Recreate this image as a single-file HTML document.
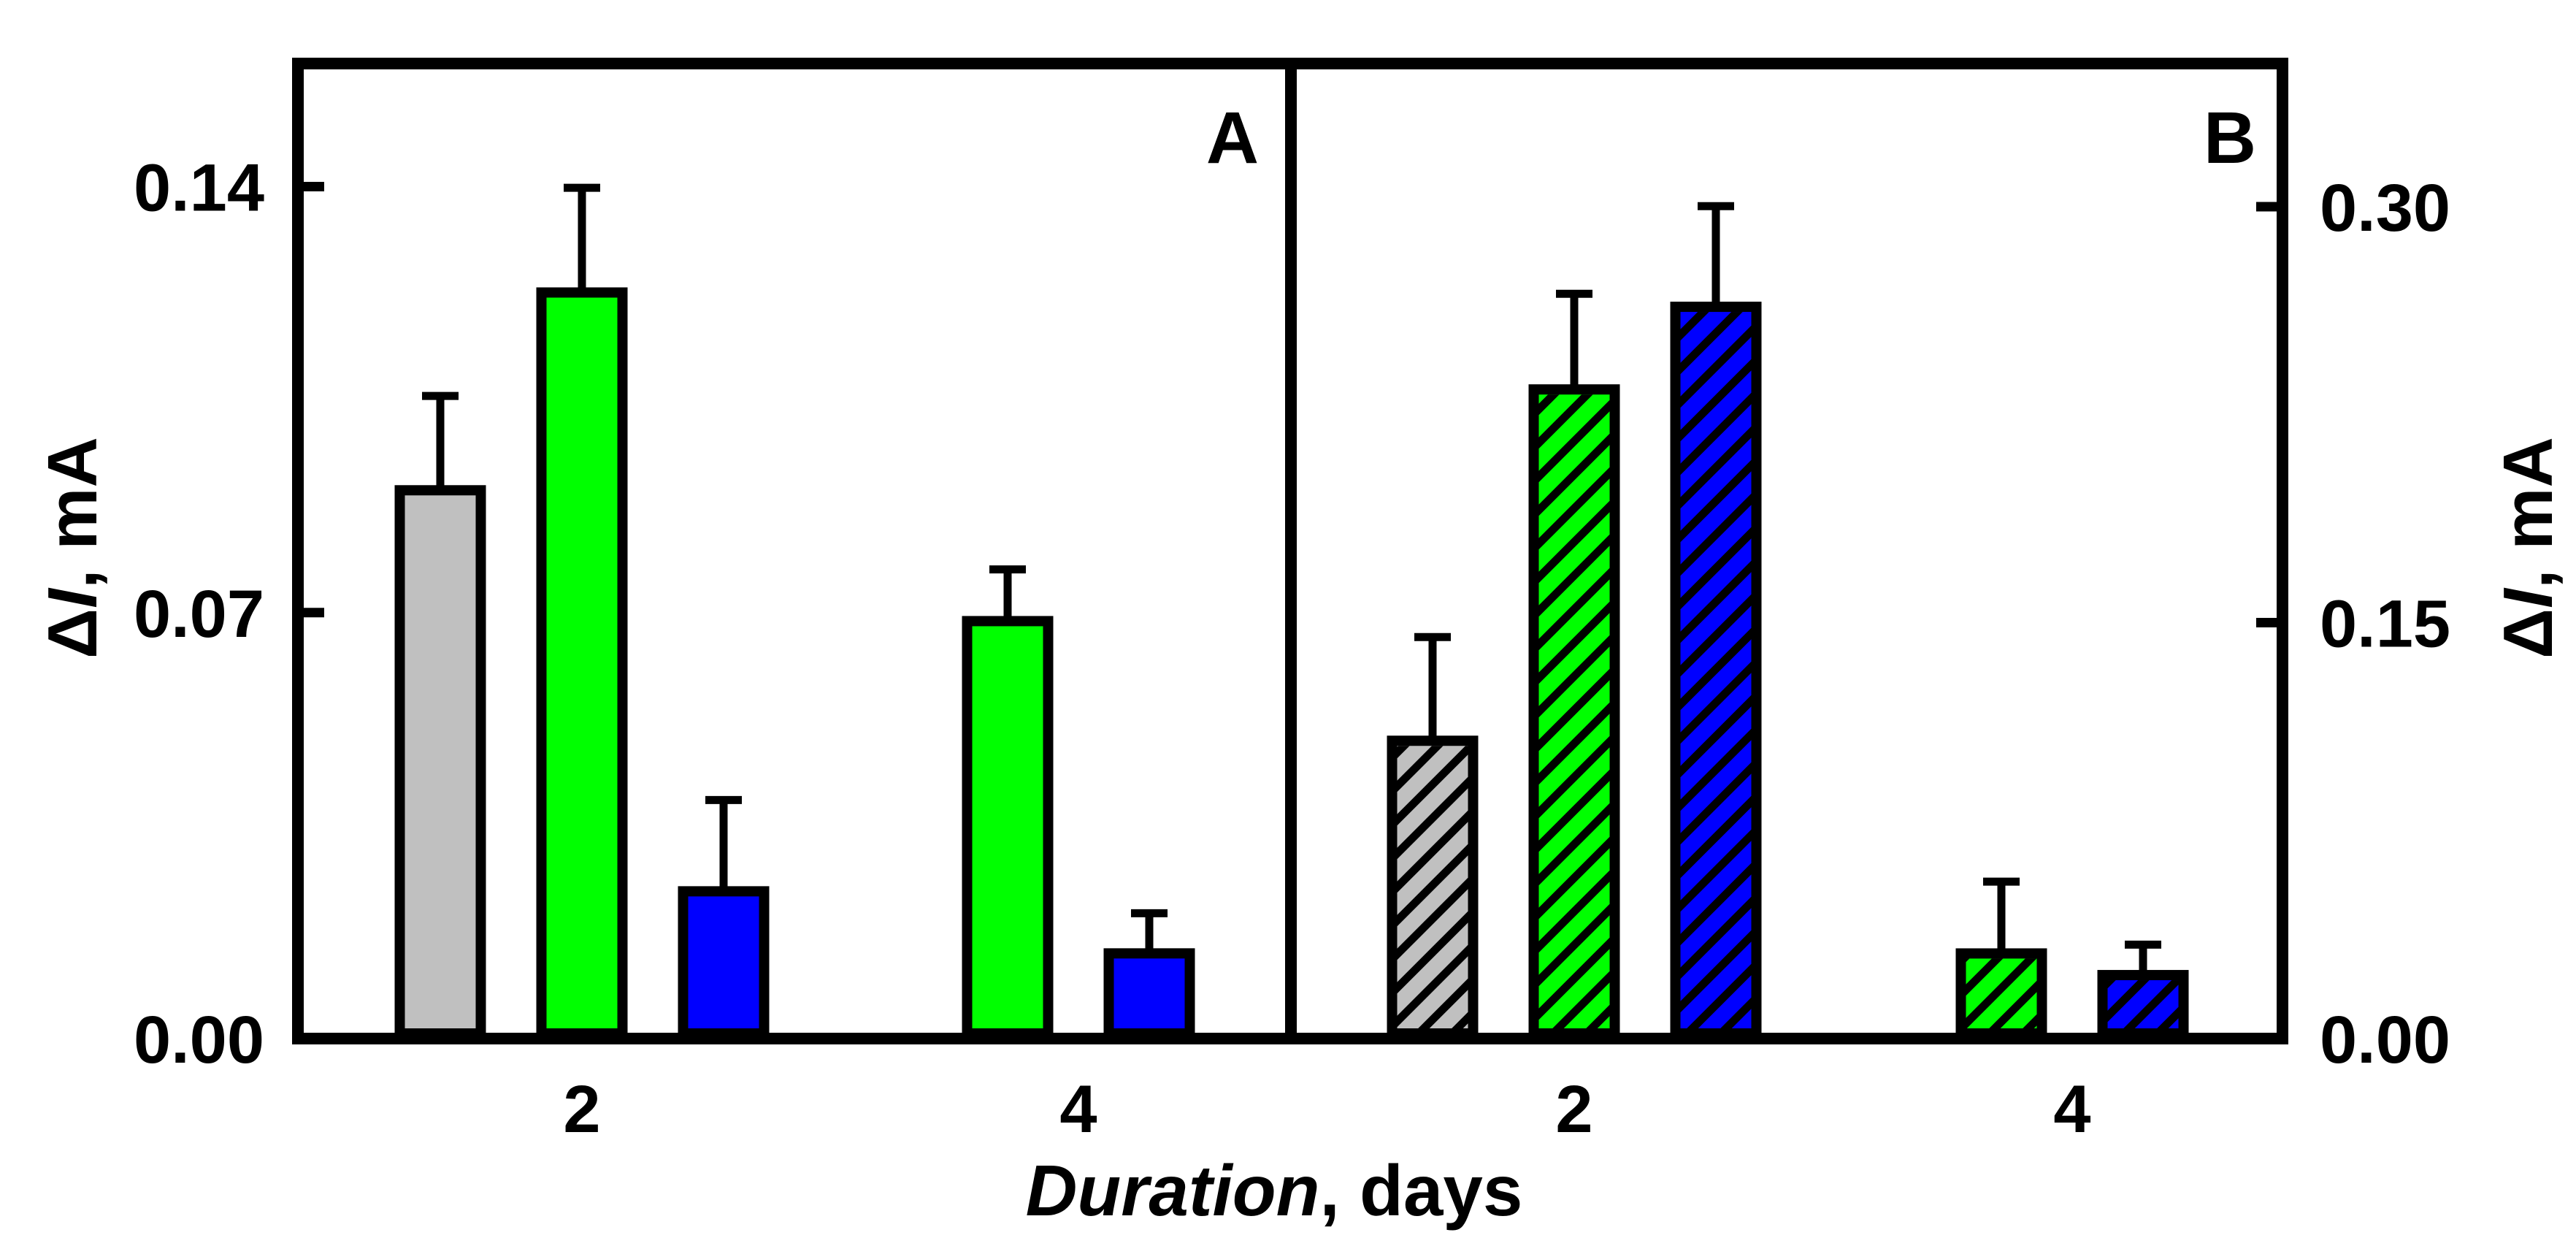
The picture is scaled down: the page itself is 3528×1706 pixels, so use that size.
<!DOCTYPE html>
<html><head><meta charset="utf-8">
<style>
html,body{margin:0;padding:0;background:#fff;}
svg{display:block;}
text{font-family:"Liberation Sans",Arial,sans-serif;font-weight:bold;fill:#000;}
</style></head>
<body>
<svg id="chart" width="3528" height="1706" viewBox="0 0 3528 1706" xmlns="http://www.w3.org/2000/svg">
<defs>
<pattern id="hatch" patternUnits="userSpaceOnUse" width="46" height="46">
<path d="M-12,12 L12,-12 M0,46 L46,0 M34,58 L58,34" stroke="#000" stroke-width="11"/>
</pattern>
</defs>
<g id="bars"></g>
<g id="frame"></g>
<g id="labels"></g>
</svg>
<script>
// Panel A data (solid bars)
const daysA = ["2", "2", "2", "4", "4"];
const seriesA = ["gray", "green", "blue", "green", "blue"];
const valuesA = [0.0901, 0.1226, 0.0242, 0.0686, 0.0140];
const errorsA = [0.0161, 0.0178, 0.0156, 0.0091, 0.0072];
const ticksA = [0.00, 0.07, 0.14];
const tickLabelsA = ["0.00", "0.07", "0.14"];
// Panel B data (hatched bars)
const daysB = ["2", "2", "2", "4", "4"];
const seriesB = ["gray", "green", "blue", "green", "blue"];
const valuesB = [0.1074, 0.2341, 0.2639, 0.0307, 0.0229];
const errorsB = [0.0387, 0.0358, 0.0376, 0.0272, 0.0123];
const ticksB = [0.00, 0.15, 0.30];
const tickLabelsB = ["0.00", "0.15", "0.30"];
const dayCats = ["2", "4"];

const NS = "http://www.w3.org/2000/svg";
const colors = {gray: "#c0c0c0", green: "#00ff00", blue: "#0000ff"};
const baseY = 1422, topY = 87;
const xL = 408, xM = 1768, xR = 3126;
const yA = v => baseY - v * (1166.5 / 0.14);
const yB = v => baseY - v * (1139 / 0.30);
const dayCenterA = {"2": 797, "4": 1477};
const dayCenterB = {"2": 2156, "4": 2838};
const spacing = 194, barW = 125;

function mk(tag, attrs, parent) {
  const e = document.createElementNS(NS, tag);
  for (const k in attrs) e.setAttribute(k, attrs[k]);
  parent.appendChild(e);
  return e;
}
const gBars = document.getElementById('bars');
const gFrame = document.getElementById('frame');
const gLab = document.getElementById('labels');

function drawPanel(days, series, values, errors, yf, centers, hatched, panel) {
  dayCats.forEach(d => {
    const idx = [];
    days.forEach((dd, i) => { if (dd === d) idx.push(i); });
    idx.forEach((i, k) => {
      const cx = centers[d] + (k - (idx.length - 1) / 2) * spacing;
      const yt = yf(values[i]);
      const ye = yf(values[i] + errors[i]);
      const eb = mk('line', {x1: cx, x2: cx, y1: yt, y2: ye, stroke: '#000', 'stroke-width': 11}, gBars);
      
      
      const cap = mk('line', {x1: cx - 25, x2: cx + 25, y1: ye + 5, y2: ye + 5, stroke: '#000', 'stroke-width': 11}, gBars);
      
      
      const r = mk('rect', {x: cx - barW / 2 + 7, y: yt, width: barW - 14, height: baseY - yt - 7, fill: colors[series[i]], stroke: '#000', 'stroke-width': 14}, gBars);
      
      
      if (hatched) {
        const h = mk('rect', {x: cx - barW / 2 + 14, y: yt + 7, width: barW - 28, height: Math.max(0, baseY - yt - 21), fill: 'url(#hatch)'}, gBars);
        
        
      }
    });
    const t = mk('text', {x: centers[d], y: 1550, 'font-size': 92, 'text-anchor': 'middle'}, gLab);
    t.textContent = d;
    
    
  });
}
drawPanel(daysA, seriesA, valuesA, errorsA, yA, dayCenterA, false, 'a');
drawPanel(daysB, seriesB, valuesB, errorsB, yB, dayCenterB, true, 'b');

const fr = mk('path', {d: `M${xL},${topY} H${xR} M${xL},${baseY} H${xR} M${xL},${topY - 8} V${baseY + 8} M${xM},${topY} V${baseY} M${xR},${topY - 8} V${baseY + 8}`, stroke: '#000', 'stroke-width': 16, fill: 'none'}, gFrame);



ticksA.forEach((v, i) => {
  const y = yA(v);
  const t = mk('line', {x1: xL, x2: xL + 36, y1: y, y2: y, stroke: '#000', 'stroke-width': 13}, gFrame);
  
  
  const l = mk('text', {x: 362, y: y + 33, 'font-size': 92, 'text-anchor': 'end'}, gLab);
  l.textContent = tickLabelsA[i];
  
  
});
ticksB.forEach((v, i) => {
  const y = yB(v);
  const t = mk('line', {x1: xR - 36, x2: xR, y1: y, y2: y, stroke: '#000', 'stroke-width': 13}, gFrame);
  
  
  const l = mk('text', {x: 3177, y: y + 33, 'font-size': 92, 'text-anchor': 'start'}, gLab);
  l.textContent = tickLabelsB[i];
  
  
});
</script>
<svg style="position:absolute;left:0;top:0" width="3528" height="1706" viewBox="0 0 3528 1706" xmlns="http://www.w3.org/2000/svg">
<text x="1688" y="223" font-size="100" text-anchor="middle">A</text>
<text x="3054" y="223" font-size="100" text-anchor="middle">B</text>
<text transform="translate(132,750) rotate(-90)" font-size="96" text-anchor="middle">Δ<tspan font-style="italic">I</tspan>, mA</text>
<text transform="translate(3495,750) rotate(-90)" font-size="96" text-anchor="middle">Δ<tspan font-style="italic">I</tspan>, mA</text>
<text x="1745" y="1664" font-size="98" text-anchor="middle"><tspan font-style="italic">Duration</tspan>, days</text>
</svg>
</body></html>
